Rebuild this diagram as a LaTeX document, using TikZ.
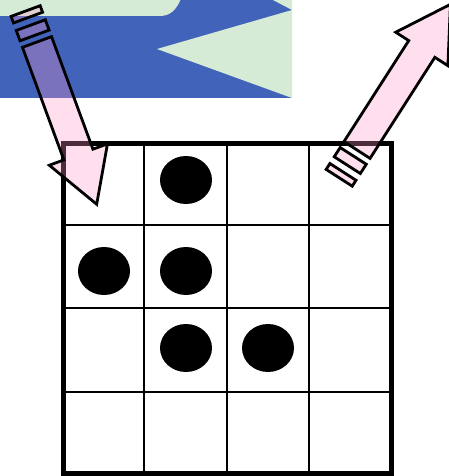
\documentclass[tikz,border=0pt]{standalone}
\definecolor{bgblue}{RGB}{66,99,186}
\definecolor{bggreen}{RGB}{213,235,213}
\definecolor{arrowpink}{RGB}{255,150,200}
\tikzset{
  fatarrow/.style={fill=arrowpink, fill opacity=0.3, draw=black, line width=2.8pt, line join=miter},
  gridline/.style={line width=2.4pt},
  gridframe/.style={line width=5pt},
  stone/.style={fill=black},
  pics/pencilarrow/.style={code={
    \draw[fatarrow] (0,-15.5) -- (120,-15.5) -- (120,-31) -- (173,0) -- (120,31) -- (120,15.5) -- (0,15.5) -- cycle;
    \draw[fatarrow] (-18,-15.5) -- (-7,-15.5) -- (-7,15.5) -- (-18,15.5) -- cycle;
    \draw[fatarrow] (-33,-15.5) -- (-26,-15.5) -- (-26,15.5) -- (-33,15.5) -- cycle;
  }}
}
\begin{document}
\begin{tikzpicture}[x=1pt,y=-1pt]
\useasboundingbox (0,0) rectangle (448,476);
% background picture fragment
\fill[bgblue] (0,0) rectangle (292,98);
\fill[bggreen] (0,0) -- (180.4,0) .. controls (176,10) and (170,16) .. (160,16) -- (0,16) -- cycle;
\fill[bggreen] (273,0) -- (292,0) -- (292,10) -- cycle;
\fill[bggreen] (157,49) -- (292,10) -- (292,98) -- cycle;
% grid
\foreach \gx in {144,227,309} \draw[gridline] (\gx,143) -- (\gx,473);
\foreach \gy in {225,308,392} \draw[gridline] (63,\gy) -- (391,\gy);
\draw[gridframe] (63,143) rectangle (391,473);
% stones
\foreach \cx/\cy in {186/180, 104/271, 186/271, 186/348, 268/348}
  \fill[stone] (\cx,\cy) ellipse [x radius=26, y radius=24];
% left arrow
\begin{scope}[shift={(37pt,-42pt)}, x={(0.345pt,-0.938pt)}, y={(0.938pt,0.345pt)}]
  \pic {pencilarrow};
\end{scope}
% right arrow
\begin{scope}[shift={(357pt,-150pt)}, x={(0.540pt,0.842pt)}, y={(0.842pt,-0.540pt)}]
  \pic {pencilarrow};
\end{scope}
\end{tikzpicture}
\end{document}
